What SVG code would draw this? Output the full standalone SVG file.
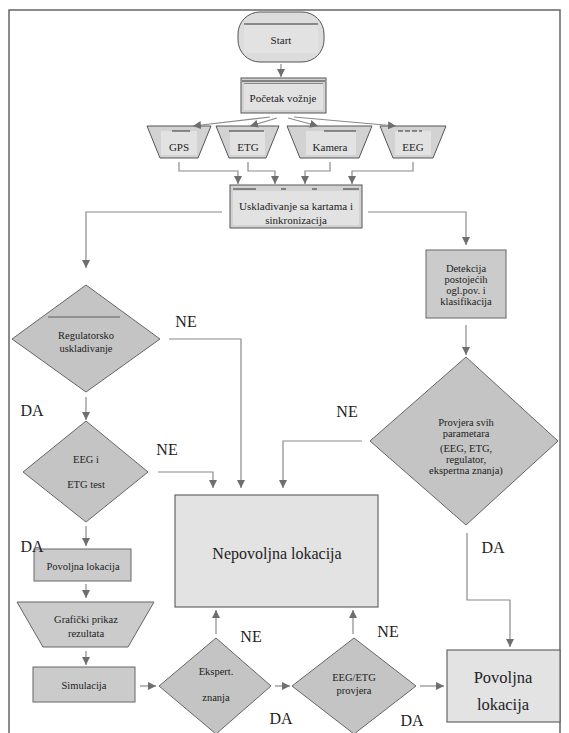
<svg xmlns="http://www.w3.org/2000/svg" width="569" height="733" viewBox="0 0 569 733" font-family="Liberation Serif, Times New Roman, serif">
<defs>
<style>
text{fill:#222;text-anchor:middle;dominant-baseline:central}
.s{font-size:11px}
.xs{font-size:10.5px}
.l{font-size:16px}
.lb{font-size:16.5px}
.dia{fill:#c4c4c4;stroke:#666;stroke-width:1}
.box{fill:#cbcbcb;stroke:#666;stroke-width:1}
.lt{fill:#e3e3e3;stroke:#666;stroke-width:1.2}
.top{fill:#d2d2d2;stroke:#555;stroke-width:1}
.in{fill:#e2e2e2;stroke:none}
.dl{stroke:#333;stroke-width:1;fill:none}
.ca{fill:none;stroke:#8a8a8a;stroke-width:1.2;marker-end:url(#ah)}
</style>
<marker id="ah" viewBox="0 0 10 10" refX="10" refY="5" markerWidth="8" markerHeight="8" markerUnits="userSpaceOnUse" orient="auto">
<path d="M0,0 L10,5 L0,10 z" fill="#6e6e6e"/>
</marker>
</defs>
<rect x="0" y="0" width="569" height="733" fill="#fff"/>
<path d="M9,740 V10 H560 V740" fill="none" stroke="#666" stroke-width="1.5"/>

<g id="start">
<rect x="238" y="12" width="86" height="50" rx="22" ry="22" fill="#dcdcdc" stroke="#555" stroke-width="1"/>
<rect x="244" y="24" width="74" height="29" class="in"/>
<line x1="244" y1="24" x2="318" y2="24" class="dl"/>
<text x="281" y="40" class="s">Start</text>
</g>
<g id="pocetak">
<rect x="241" y="78" width="85" height="35" class="top"/>
<rect x="244" y="84" width="79" height="26" class="in"/>
<line x1="242" y1="81" x2="325" y2="81" class="dl"/>
<line x1="244" y1="83.5" x2="323" y2="83.5" stroke="#777" stroke-width="0.8"/>
<text x="283" y="98" class="s">Početak vožnje</text>
</g>
<g id="gps">
<polygon points="147,126 211,126 198,158 160,158" class="top"/>
<rect x="161" y="131" width="36" height="24" class="in"/>
<line x1="172" y1="131" x2="190" y2="131" class="dl"/>
<text x="179" y="147" class="s">GPS</text>
</g>
<g id="etg">
<polygon points="216,126 279,126 266,158 229,158" class="top"/>
<rect x="230" y="131" width="35" height="24" class="in"/>
<line x1="229" y1="131" x2="264" y2="131" class="dl"/>
<text x="248" y="147" class="s">ETG</text>
</g>
<g id="kamera">
<polygon points="287,126 372,126 359,158 300,158" class="top"/>
<rect x="306" y="131" width="50" height="24" class="in"/>
<line x1="324" y1="131" x2="356" y2="131" class="dl"/>
<text x="330" y="147" class="s">Kamera</text>
</g>
<g id="eeg">
<polygon points="380,126 446,126 433,158 393,158" class="top"/>
<rect x="395" y="131" width="36" height="24" class="in"/>
<line x1="398" y1="131" x2="422" y2="131" stroke="#333" stroke-width="1" stroke-dasharray="5,2"/>
<text x="413" y="147" class="s">EEG</text>
</g>
<g id="uskladjivanje">
<rect x="230" y="185" width="132" height="43" class="top"/>
<rect x="233" y="191" width="126" height="34" class="in"/>
<line x1="233" y1="189" x2="256" y2="189" class="dl"/>
<line x1="281" y1="189" x2="286" y2="189" class="dl"/>
<line x1="312" y1="189" x2="317" y2="189" class="dl"/>
<line x1="343" y1="189" x2="359" y2="189" class="dl"/>
<text x="296" y="206" class="s">Usklađivanje sa kartama i</text>
<text x="296" y="220" class="s">sinkronizacija</text>
</g>
<g id="detekcija">
<rect x="426" y="250" width="80" height="68" class="box"/>
<text x="466" y="268" class="xs">Detekcija</text>
<text x="466" y="279" class="xs">postojećih</text>
<text x="466" y="290" class="xs">ogl.pov. i</text>
<text x="466" y="301" class="xs">klasifikacija</text>
</g>
<g id="regulatorsko">
<polygon points="86,285 160,339 86,392 12,339" class="dia"/>
<line x1="48" y1="317" x2="120" y2="317" stroke="#444" stroke-width="0.8"/>
<text x="86" y="335" class="xs">Regulatorsko</text>
<text x="86" y="348" class="xs">uskladivanje</text>
</g>
<g id="eegetgtest">
<polygon points="86,421 148,472 86,522 23,472" class="dia"/>
<text x="86" y="459" class="xs">EEG i</text>
<text x="86" y="484" class="xs">ETG test</text>
</g>
<g id="provjera">
<polygon points="466,357 558,441 466,525 370,441" class="dia"/>
<text x="466" y="422" class="xs">Provjera svih</text>
<text x="466" y="433" class="xs">parametara</text>
<text x="466" y="448" class="xs">(EEG, ETG,</text>
<text x="466" y="459" class="xs">regulator,</text>
<text x="466" y="470" class="xs">ekspertna znanja)</text>
</g>
<g id="nepovoljna">
<rect x="175" y="495" width="203" height="112" class="lt"/>
<text x="277" y="553" class="l">Nepovoljna lokacija</text>
</g>
<g id="povoljna-l">
<rect x="34" y="549" width="97" height="32" class="box"/>
<text x="83" y="566" class="xs">Povoljna lokacija</text>
</g>
<g id="graficki">
<polygon points="17,602 154,602 128,647 43,647" class="box"/>
<text x="86" y="619" class="xs">Grafički prikaz</text>
<text x="86" y="633" class="xs">rezultata</text>
</g>
<g id="simulacija">
<rect x="33" y="667" width="102" height="35" class="box"/>
<text x="84" y="685" class="xs">Simulacija</text>
</g>
<g id="ekspert">
<polygon points="216,638 271,686 216,734 159,686" class="dia"/>
<text x="216" y="671" class="xs">Ekspert.</text>
<text x="216" y="697" class="xs">znanja</text>
</g>
<g id="eegetgprovjera">
<polygon points="354,638 416,686 354,734 292,686" class="dia"/>
<text x="354" y="677" class="xs">EEG/ETG</text>
<text x="354" y="690" class="xs">provjera</text>
</g>
<g id="povoljna-r">
<rect x="447" y="650" width="113" height="72" class="lt"/>
<text x="503" y="677" class="lb">Povoljna</text>
<text x="503" y="704" class="lb">lokacija</text>
</g>

<g id="connectors">
<path d="M281,64 V77" class="ca"/>
<path d="M270,117 L193,126" class="ca"/>
<path d="M277,118 L250,126" class="ca"/>
<path d="M288,118 L318,126" class="ca"/>
<path d="M294,117 L396,126" class="ca"/>
<path d="M179,162 V171 H238 V184" class="ca"/>
<path d="M248,162 V171 H275 V184" class="ca"/>
<path d="M330,162 V171 H305 V184" class="ca"/>
<path d="M413,162 V171 H352 V184" class="ca"/>
<path d="M222,212 H86 V268" class="ca"/>
<path d="M368,212 H466 V245" class="ca"/>
<path d="M466,325 V355" class="ca"/>
<path d="M169,339 H241 V488" class="ca"/>
<path d="M86,397 V420" class="ca"/>
<path d="M158,472 H213 V488" class="ca"/>
<path d="M362,441 H283 V488" class="ca"/>
<path d="M86,526 V546" class="ca"/>
<path d="M86,584 V598" class="ca"/>
<path d="M86,651 V665" class="ca"/>
<path d="M140,686 H156" class="ca"/>
<path d="M216,634 V610" class="ca"/>
<path d="M275,686 H290" class="ca"/>
<path d="M353,634 V610" class="ca"/>
<path d="M420,686 H444" class="ca"/>
<path d="M467,533 V600 H510 V647" class="ca"/>
</g>
<g id="labels">
<text x="186" y="321" class="l">NE</text>
<text x="32" y="410" class="l">DA</text>
<text x="167" y="449" class="l">NE</text>
<text x="347" y="411" class="l">NE</text>
<text x="32" y="546" class="l">DA</text>
<text x="493" y="547" class="l">DA</text>
<text x="251" y="636" class="l">NE</text>
<text x="388" y="631" class="l">NE</text>
<text x="281" y="718" class="l">DA</text>
<text x="412" y="720" class="l">DA</text>
</g>
</svg>
